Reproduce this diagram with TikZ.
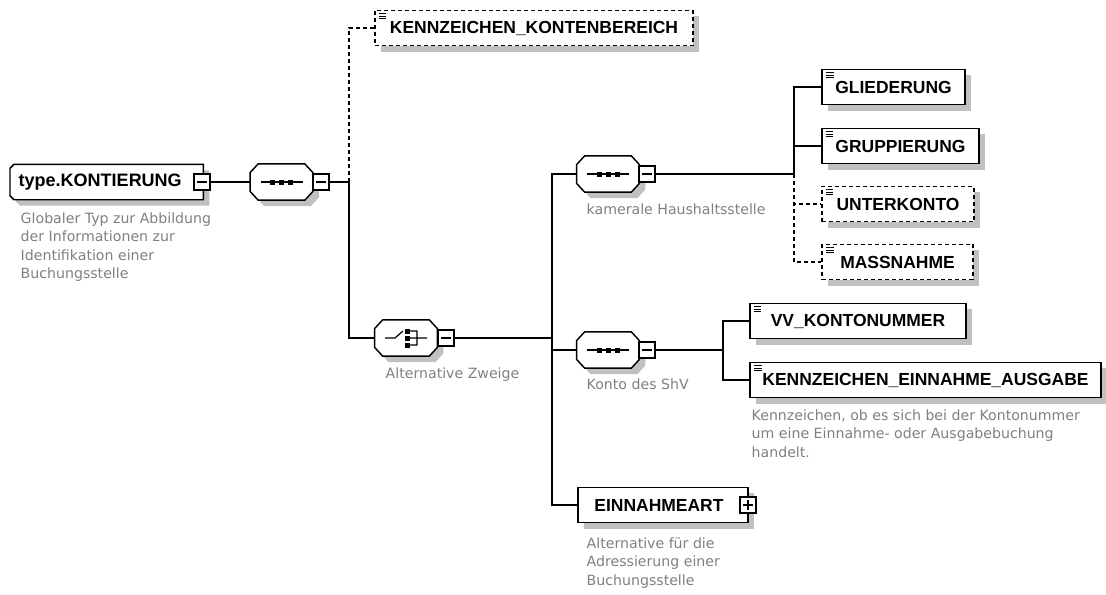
\documentclass[tikz,border=0pt]{standalone}
\usepackage{fontspec}
\setmainfont{DejaVu Sans}
\newfontfamily\labelsans{Liberation Sans}
\usepackage{xcolor}
\usetikzlibrary{positioning, shadows, backgrounds}
\definecolor{shadowgray}{RGB}{192,192,192}
\definecolor{descgray}{RGB}{128,128,128}

\begin{document}
\begin{tikzpicture}[
  x=0.75pt, y=-0.75pt, line width=1.1pt,
  boxshadow/.style={drop shadow={fill=shadowgray, opacity=1, shadow xshift=4.5pt, shadow yshift=-4.5pt}},
  optline/.style={dash pattern=on 3pt off 2.25pt},
  plainbox/.style={draw, fill=white, boxshadow, font={\labelsans\fontsize{13.1}{15}\selectfont\bfseries},
    minimum height=26.5pt, inner sep=0pt},
  elem/.style={plainbox, path picture={\foreach \k in {0,1,2}
    \draw[solid, line width=0.8pt] ([xshift=3pt, yshift=-2.6pt-1.9pt*\k]path picture bounding box.north west) -- ++(5.5pt,0);}},
  optelem/.style={elem, optline},
  comp/.style={rectangle, minimum width=46pt, minimum height=26pt, inner sep=0pt},
  compshape/.style={fill=white, draw, line width=1.1pt, boxshadow},
  rootbox/.style={rectangle, font={\labelsans\fontsize{13.5}{15}\selectfont\bfseries},
    minimum height=25.5pt, text width=132pt, align=left, inner xsep=6pt},
  tog/.style={draw, fill=white, minimum size=12pt, inner sep=0pt,
    path picture={\draw[line width=0.9pt] ([xshift=2.5pt]path picture bounding box.west) -- ([xshift=-2.5pt]path picture bounding box.east);}},
  togplus/.style={draw, fill=white, minimum size=12pt, inner sep=0pt,
    path picture={\draw[line width=0.9pt] ([xshift=2.5pt]path picture bounding box.west) -- ([xshift=-2.5pt]path picture bounding box.east);
      \draw[line width=0.9pt] ([yshift=-2.5pt]path picture bounding box.north) -- ([yshift=2.5pt]path picture bounding box.south);}},
  desc/.style={anchor=north west, align=left, inner sep=0pt, text=descgray, font={\fontsize{10.6}{13.7}\selectfont}}
]
\useasboundingbox (0,0) rectangle (1106,594);

\node[rootbox, anchor=west] (root) at (10,182) {type.KONTIERUNG};
\node[desc] (rootD) at (20,212) {Globaler Typ zur Abbildung\\der Informationen zur\\Identifikation einer\\Buchungsstelle};

\node[comp] (seqA) at (281.5,182) {};
\node[optelem, minimum width=238.5pt] (kkb) at (534,28) {KENNZEICHEN\_KONTENBEREICH};

\node[comp] (choice) at (406,338) {};
\node[desc] (choiceD) at (385,367) {Alternative Zweige};

\node[comp] (seqB) at (608,174) {};
\node[desc] (seqBD) at (586,203) {kamerale Haushaltsstelle};

\node[elem, minimum width=107pt] (glied) at (893.5,87) {GLIEDERUNG};
\node[elem, minimum width=118pt] (grupp) at (900.5,146) {GRUPPIERUNG};
\node[optelem, minimum width=114pt] (unterk) at (898,204) {UNTERKONTO};
\node[optelem, minimum width=113pt] (massn) at (897.5,262) {MASSNAHME};

\node[comp] (seqC) at (608,350) {};
\node[desc] (seqCD) at (586,378) {Konto des ShV};

\node[elem, minimum width=162pt] (vv) at (858,321) {VV\_KONTONUMMER};
\node[elem, minimum width=263pt] (kea) at (925.5,380) {KENNZEICHEN\_EINNAHME\_AUSGABE};
\node[desc] (keaD) at (751,409) {Kennzeichen, ob es sich bei der Kontonummer\\um eine Einnahme- oder Ausgabebuchung\\handelt.};

\node[plainbox, minimum width=127.5pt] (einn) at (663,505) {EINNAHMEART\hspace*{6pt}};
\node[desc] (einnD) at (586,537) {Alternative für die\\Adressierung einer\\Buchungsstelle};

\begin{scope}[on background layer]
\filldraw[compshape] ([xshift=3pt]root.north west) -- (root.north east) -- (root.south east)
  -- ([xshift=3pt]root.south west) -- ([yshift=3pt]root.south west) -- ([yshift=-3pt]root.north west) -- cycle;
\foreach \s in {seqA,seqB,seqC,choice}
  \filldraw[compshape] ([xshift=6pt]\s.north west) -- ([xshift=-6pt]\s.north east)
    -- ([yshift=-6.5pt]\s.north east) -- ([yshift=6.5pt]\s.south east) -- ([xshift=-6pt]\s.south east)
    -- ([xshift=6pt]\s.south west) -- ([yshift=6.5pt]\s.south west) -- ([yshift=-6.5pt]\s.north west) -- cycle;
\end{scope}

\node[tog] (togRoot) at (202,182) {};
\node[tog] (togA) at (321,182) {};
\node[tog] (togChoice) at (446,338) {};
\node[tog] (togB) at (647,174) {};
\node[tog] (togC) at (647,350) {};
\node[togplus] (togE) at (748,505) {};

\foreach \s in {seqA,seqB,seqC} {
  \draw[shift={(\s.center)}, line width=0.9pt] (-21,0) -- (21,0);
  \foreach \d in {-9,0,9} \fill[shift={(\s.center)}] (\d-2.5,-2.5) rectangle (\d+2.5,2.5);
}
\draw[shift={(choice.center)}, line width=0.9pt] (-21,0) -- (-11,0) -- (-3,-7)
  (1,-7) -- (11,-7) -- (11,7) -- (1,7) (1,0) -- (21,0);
\foreach \d in {-7,0,7} \fill[shift={(choice.center)}] (-1.5,\d-2.5) rectangle (3.5,\d+2.5);

\coordinate (jA) at (349,182);
\coordinate (jB) at (552,338);
\coordinate (jC) at (794,174);
\coordinate (jD) at (723,350);

\draw (togRoot) -- (seqA);
\draw (togA) -- (jA);
\draw[optline] (jA) |- (kkb);
\draw (jA) |- (choice);
\draw (togChoice) -- (jB);
\draw (jB) |- (seqB);
\draw (jB) |- (seqC);
\draw (jB) |- (einn);
\draw (togB) -- (jC);
\draw (jC) |- (glied);
\draw (jC) |- (grupp);
\draw[optline] (jC) |- (unterk);
\draw[optline] (jC) |- (massn);
\draw (togC) -- (jD);
\draw (jD) |- (vv);
\draw (jD) |- (kea);
\end{tikzpicture}
\end{document}
